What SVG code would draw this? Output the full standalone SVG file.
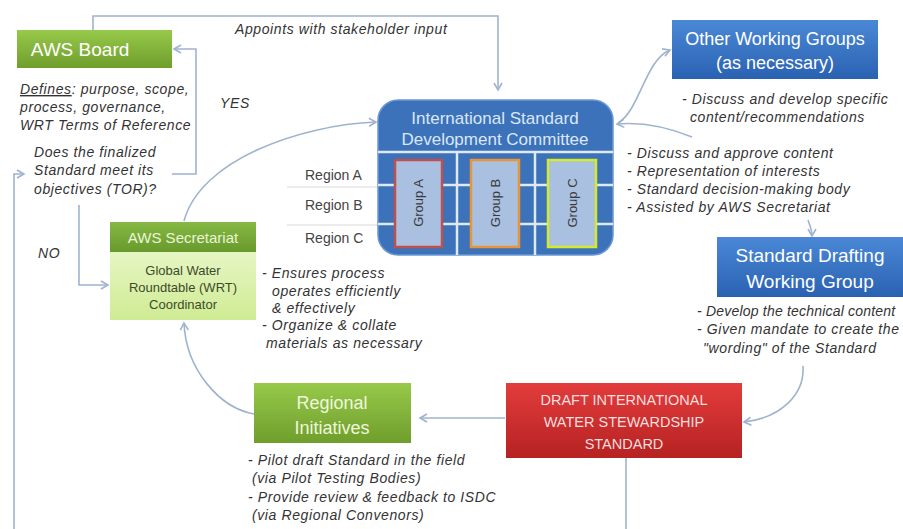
<svg xmlns="http://www.w3.org/2000/svg" width="903" height="529" viewBox="0 0 903 529">
<style>
.note{font-family:"Liberation Sans",Arial,sans-serif;font-style:italic;font-size:14px;letter-spacing:0.6px;fill:#333}
.lbl{font-family:"Liberation Sans",Arial,sans-serif;font-size:14px;fill:#444}
.bx{font-family:"Liberation Sans",Arial,sans-serif;text-anchor:middle}
.w{fill:#fff}
.con{fill:none;stroke:#9fb3cf;stroke-width:1.6}
.grid{stroke:#dfe9f7;stroke-width:2.5}
.grp{fill:#a9c0e0;stroke-width:2.5}
.gt{font-family:"Liberation Sans",Arial,sans-serif;font-size:13px;fill:#3a3a3a;text-anchor:middle}
</style>
<defs>
<marker id="ah" markerWidth="10" markerHeight="10" refX="8" refY="5" orient="auto" markerUnits="userSpaceOnUse">
<path d="M1,1 L8,5 L1,9" fill="none" stroke="#9fb3cf" stroke-width="1.6"/>
</marker>
<linearGradient id="gGreen" x1="0" y1="0" x2="0" y2="1"><stop offset="0" stop-color="#97c94a"/><stop offset="1" stop-color="#6f9e2c"/></linearGradient>
<linearGradient id="gGreenH" x1="0" y1="0" x2="0" y2="1"><stop offset="0" stop-color="#86b843"/><stop offset="1" stop-color="#679a2c"/></linearGradient>
<linearGradient id="gLight" x1="0" y1="0" x2="0" y2="1"><stop offset="0" stop-color="#e6f6c4"/><stop offset="1" stop-color="#cfeb93"/></linearGradient>
<linearGradient id="gBlue" x1="0" y1="0" x2="0" y2="1"><stop offset="0" stop-color="#4a88d6"/><stop offset="1" stop-color="#2a62b2"/></linearGradient>
<linearGradient id="gRed" x1="0" y1="0" x2="0" y2="1"><stop offset="0" stop-color="#e33c3c"/><stop offset="1" stop-color="#b62222"/></linearGradient>
</defs>
<rect width="903" height="529" fill="#fff"/>

<g id="connectors">
<path class="con" d="M93,30 V16 H498 V90" marker-end="url(#ah)"/>
<path class="con" d="M172,174 H196 V49 H174" marker-end="url(#ah)"/>
<path class="con" d="M14,529 V174 H24" marker-end="url(#ah)"/>
<path class="con" d="M79,205 V285 H108" marker-end="url(#ah)"/>
<path class="con" d="M184,221 C200,160 300,125 376,122" marker-end="url(#ah)"/>
<path class="con" d="M618,123 C640,110 645,60 670,50" marker-end="url(#ah)"/>
<path class="con" d="M692,137 C665,126 640,122 617,124" marker-end="url(#ah)"/>
<path class="con" d="M808,220 C810,226 812,230 812,236" marker-end="url(#ah)"/>
<path class="con" d="M803,366 C805,395 780,418 744,422" marker-end="url(#ah)"/>
<path class="con" d="M505,418 H420" marker-end="url(#ah)"/>
<path class="con" d="M626,458 V529"/>
<path class="con" d="M254,414 C220,408 186,370 184,323" marker-end="url(#ah)"/>
<line x1="287" y1="187" x2="378" y2="187" stroke="#d8d8d8" stroke-width="1"/>
<line x1="287" y1="225" x2="378" y2="225" stroke="#d8d8d8" stroke-width="1"/>
</g>

<g id="aws-board">
<rect x="17" y="30" width="155" height="38" fill="url(#gGreen)"/>
<text class="bx w" x="80" y="56" font-size="19">AWS Board</text>
<text class="note" x="20" y="94"><tspan text-decoration="underline">Defines</tspan>: purpose, scope,</text>
<text class="note" x="20" y="112">process, governance,</text>
<text class="note" x="20" y="130">WRT Terms of Reference</text>
</g>

<g id="decision">
<text class="note" x="34" y="157">Does the finalized</text>
<text class="note" x="34" y="175">Standard meet its</text>
<text class="note" x="34" y="194">objectives (TOR)?</text>
<text class="note" x="220" y="108">YES</text>
<text class="note" x="38" y="258">NO</text>
<text class="note" x="235" y="34">Appoints with stakeholder input</text>
</g>

<g id="isdc">
<rect x="378" y="100" width="235" height="155" rx="20" fill="#3b72b9" stroke="#6b98d4" stroke-width="1.5"/>
<text class="bx" x="495" y="124" font-size="17" style="fill:#dbe7f7">International Standard</text>
<text class="bx" x="495" y="145" font-size="17" style="fill:#dbe7f7">Development Committee</text>
<line class="grid" x1="378" y1="152" x2="613" y2="152"/>
<line class="grid" x1="378" y1="185" x2="613" y2="185"/>
<line class="grid" x1="378" y1="224" x2="613" y2="224"/>
<line class="grid" x1="457" y1="152" x2="457" y2="255"/>
<line class="grid" x1="535" y1="152" x2="535" y2="255"/>
<rect class="grp" x="395" y="160" width="47" height="87" stroke="#c0504d"/>
<rect class="grp" x="471" y="160" width="48" height="87" stroke="#e8953a"/>
<rect class="grp" x="548" y="160" width="48" height="87" stroke="#d4ea2a"/>
<text class="gt" transform="translate(423,203) rotate(-90)">Group A</text>
<text class="gt" transform="translate(500,203) rotate(-90)">Group B</text>
<text class="gt" transform="translate(577,203) rotate(-90)">Group C</text>
<text class="lbl" x="305" y="180">Region A</text>
<text class="lbl" x="305" y="210">Region B</text>
<text class="lbl" x="305" y="243">Region C</text>
<text class="note" x="627" y="158">- Discuss and approve content</text>
<text class="note" x="627" y="176">- Representation of interests</text>
<text class="note" x="627" y="194">- Standard decision-making body</text>
<text class="note" x="627" y="212">- Assisted by AWS Secretariat</text>
</g>

<g id="other-wg">
<rect x="672" y="20" width="206" height="59" fill="url(#gBlue)"/>
<text class="bx w" x="775" y="45" font-size="18">Other Working Groups</text>
<text class="bx w" x="775" y="69" font-size="18">(as necessary)</text>
<text class="note" x="682" y="104">- Discuss and develop specific</text>
<text class="note" x="690" y="122">content/recommendations</text>
</g>

<g id="drafting-wg">
<rect x="717" y="237" width="186" height="60" fill="url(#gBlue)"/>
<text class="bx w" x="810" y="262" font-size="19">Standard Drafting</text>
<text class="bx w" x="810" y="288" font-size="19">Working Group</text>
<text class="note" x="697" y="316" style="letter-spacing:0.2px">- Develop the technical content</text>
<text class="note" x="697" y="334">- Given mandate to create the</text>
<text class="note" x="703" y="353">"wording" of the Standard</text>
</g>

<g id="draft-standard">
<rect x="506" y="383" width="236" height="75" fill="url(#gRed)"/>
<text class="bx" x="624" y="405" font-size="14.5" style="fill:#f6dede">DRAFT INTERNATIONAL</text>
<text class="bx" x="624" y="427" font-size="14.5" style="fill:#f6dede">WATER STEWARDSHIP</text>
<text class="bx" x="624" y="449" font-size="14.5" style="fill:#f6dede">STANDARD</text>
</g>

<g id="regional">
<rect x="254" y="383" width="157" height="60" fill="url(#gGreen)"/>
<text class="bx" x="332" y="409" font-size="18" style="fill:#eef7dc">Regional</text>
<text class="bx" x="332" y="434" font-size="18" style="fill:#eef7dc">Initiatives</text>
<text class="note" x="248" y="465">- Pilot draft Standard in the field</text>
<text class="note" x="252" y="483">(via Pilot Testing Bodies)</text>
<text class="note" x="248" y="502">- Provide review &amp; feedback to ISDC</text>
<text class="note" x="252" y="520">(via Regional Convenors)</text>
</g>

<g id="secretariat">
<rect x="110" y="222" width="146" height="30" fill="url(#gGreenH)"/>
<rect x="110" y="252" width="146" height="68" fill="url(#gLight)"/>
<text class="bx" x="183" y="243" font-size="15" style="fill:#eaf5d8">AWS Secretariat</text>
<text class="bx" x="183" y="275" font-size="13" style="fill:#3d4a2a">Global Water</text>
<text class="bx" x="183" y="292" font-size="13" style="fill:#3d4a2a">Roundtable (WRT)</text>
<text class="bx" x="183" y="309" font-size="13" style="fill:#3d4a2a">Coordinator</text>
<text class="note" x="262" y="278">- Ensures process</text>
<text class="note" x="272" y="296">operates efficiently</text>
<text class="note" x="272" y="313">&amp; effectively</text>
<text class="note" x="262" y="330">- Organize &amp; collate</text>
<text class="note" x="266" y="348">materials as necessary</text>
</g>
</svg>
